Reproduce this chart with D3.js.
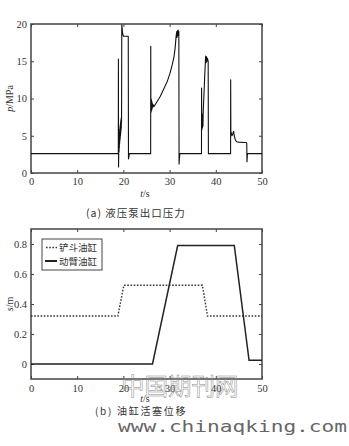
<!DOCTYPE html>
<html><head><meta charset="utf-8">
<script src="https://cdn.jsdelivr.net/npm/d3@7"></script>
<style>body{margin:0;background:#fff;}svg{display:block;}</style>
</head><body>
<svg id="c" width="349" height="446"></svg>
<script>
// ---- data ----
const xTicks = [0, 10, 20, 30, 40, 50];
const pTicks = [0, 5, 10, 15, 20];
const sTicks = [0, 0.2, 0.4, 0.6, 0.8];
const sTickLabels = ["0", "0.2", "0.4", "0.6", "0.8"];

// pump outlet pressure p (MPa) vs time t (s)
const pressureT = [0, 18.9, 18.92, 18.95, 19.0, 19.03, 19.06, 19.09, 19.12, 19.15, 19.18, 19.21, 19.24, 19.27, 19.3, 19.33, 19.36, 19.39, 19.42, 19.45, 19.48, 19.51, 19.54, 19.57, 19.6,
  19.65, 19.85, 20.0, 21.05, 21.1, 21.3,
  25.9, 25.92, 25.95, 25.98, 26.01, 26.04, 26.07, 26.1, 26.13, 26.16, 26.2, 26.25, 26.3, 26.4, 26.6, 27.0, 28.0, 28.6, 29.5, 30.1, 30.6, 30.95, 31.2, 31.4, 31.55, 31.6, 31.7, 31.75, 31.85, 31.9, 32.0, 32.05, 32.2,
  36.9, 36.92, 36.95, 36.98, 37.01, 37.04, 37.07, 37.1, 37.13, 37.16, 37.19, 37.22, 37.25, 37.3, 37.6, 37.8, 37.9, 38.0, 38.1, 38.2, 38.35, 38.4,
  43.2, 43.22, 43.26, 43.5, 43.7, 43.85, 44.0, 44.2, 44.5, 45.0, 46.0, 46.6, 46.7, 46.75, 46.85, 50];
const pressureP = [2.6, 2.6, 15.3, 0.8, 3.2, 4.6, 2.9, 5.1, 3.4, 5.5, 3.9, 5.9, 4.3, 6.2, 4.6, 6.5, 5.0, 6.8, 5.3, 7.1, 5.7, 7.3, 6.0, 7.4, 6.8,
  19.9, 18.7, 18.35, 18.35, 1.9, 2.6,
  2.6, 17.0, 8.3, 10.0, 8.2, 9.9, 8.4, 9.7, 8.5, 9.6, 8.6, 9.4, 8.8, 9.2, 8.9, 9.3, 10.3, 11.1, 12.3, 13.4, 14.6, 15.6, 16.8, 18.3, 19.0, 18.2, 19.1, 18.4, 19.2, 18.5, 19.0, 1.2, 2.6,
  2.6, 11.4, 7.8, 5.8, 7.9, 6.0, 7.8, 6.1, 7.7, 6.2, 7.6, 6.3, 7.5, 8.5, 13.0, 15.7, 14.8, 15.6, 15.0, 15.4, 15.0, 2.6,
  2.6, 12.5, 5.6, 5.0, 5.3, 5.6, 5.0, 4.5, 4.2, 4.15, 4.1, 4.1, 4.0, 1.5, 2.6, 2.6];

// cylinder piston displacement s (m)
const seriesNames = ["铲斗油缸", "动臂油缸"];
const bucketT = [0, 18.8, 20.1, 37.1, 38.2, 50];
const bucketS = [0.32, 0.32, 0.525, 0.525, 0.32, 0.32];
const boomT = [0, 26.3, 31.75, 44.0, 47.2, 50];
const boomS = [0, 0, 0.79, 0.79, 0.025, 0.025];

// ---- drawing ----
const svg = d3.select("#c");
const serif = "'Liberation Serif','DejaVu Serif',serif";
const cjk = "'Noto Sans CJK SC','Noto Sans CJK JP',sans-serif";
const frameColor = "#444";

function panel(yTop, yBot, xDom, yDom, yTickVals, yTickFmt, xPad, yLabel, xLabelY) {
  const x = d3.scaleLinear().domain(xDom).range([31, 262]);
  const y = d3.scaleLinear().domain(yDom).range([yBot, yTop]);
  const g = svg.append("g");
  const style = (sel) => {
    sel.select(".domain").remove();
    sel.selectAll("line").attr("stroke", frameColor).attr("stroke-width", 1);
    sel.selectAll("text").attr("font-family", serif).attr("font-size", 10.5).attr("fill", "#333");
  };
  g.append("g").attr("transform", `translate(0,${yBot})`)
    .call(d3.axisBottom(x).tickValues(xTicks).tickSize(-3).tickPadding(xPad)).call(style);
  g.append("g").attr("transform", `translate(0,${yTop})`)
    .call(d3.axisTop(x).tickValues(xTicks).tickSize(-3).tickFormat("")).call(style);
  g.append("g").attr("transform", `translate(31,0)`)
    .call(d3.axisLeft(y).tickValues(yTickVals).tickSize(-3).tickPadding(4).tickFormat(yTickFmt)).call(style);
  g.append("g").attr("transform", `translate(262,0)`)
    .call(d3.axisRight(y).tickValues(yTickVals).tickSize(-3).tickFormat("")).call(style);
  g.append("rect").attr("x", 31).attr("y", yTop).attr("width", 231).attr("height", yBot - yTop)
    .attr("fill", "none").attr("stroke", frameColor).attr("stroke-width", 1.5);
  const t = g.append("text").attr("x", 145).attr("y", xLabelY).attr("text-anchor", "middle")
    .attr("font-family", serif).attr("font-size", 10).attr("fill", "#333");
  t.append("tspan").attr("font-style", "italic").text("t");
  t.append("tspan").text("/s");
  const yl = g.append("text").attr("transform", `translate(13,${(yTop + yBot) / 2}) rotate(-90)`)
    .attr("text-anchor", "middle").attr("font-family", serif).attr("font-size", 10).attr("fill", "#333");
  yl.append("tspan").attr("font-style", "italic").text(yLabel[0]);
  yl.append("tspan").text(yLabel[1]);
  return {x, y, g};
}

// Panel (a)
const A = panel(24, 173, [0, 50], [0, 20], pTicks, d3.format("d"), 5, ["p", "/MPa"], 197);
const lineA = d3.line().x((d, i) => A.x(pressureT[i])).y((d, i) => A.y(pressureP[i]));
A.g.append("path").attr("d", lineA(pressureT)).attr("fill", "none")
  .attr("stroke", "#111").attr("stroke-width", 1.1).attr("stroke-linejoin", "round");

svg.append("text").attr("x", 86).attr("y", 217).attr("font-family", cjk).attr("font-size", 10.5)
  .attr("letter-spacing", 1).attr("fill", "#333").text("(a) 液压泵出口压力");

// Panel (b)
const B = panel(229, 379, [0, 50], [-0.1, 0.9], sTicks, (d, i) => sTickLabels[i], 6, ["s", "/m"], 402);
const lineB = (T, S) => d3.line().x((d, i) => B.x(T[i])).y((d, i) => B.y(S[i]))(T);
B.g.append("path").attr("d", lineB(bucketT, bucketS)).attr("fill", "none")
  .attr("stroke", "#333").attr("stroke-width", 1.4).attr("stroke-dasharray", "1.6,1.6");
B.g.append("path").attr("d", lineB(boomT, boomS)).attr("fill", "none")
  .attr("stroke", "#222").attr("stroke-width", 1.5);

// legend
const lg = svg.append("g");
lg.append("rect").attr("x", 42).attr("y", 239).attr("width", 60).attr("height", 31)
  .attr("fill", "#fff").attr("stroke", frameColor).attr("stroke-width", 1);
lg.append("line").attr("x1", 46).attr("x2", 57).attr("y1", 247.5).attr("y2", 247.5)
  .attr("stroke", "#333").attr("stroke-width", 1.3).attr("stroke-dasharray", "1.6,1.6");
lg.append("line").attr("x1", 45).attr("x2", 57).attr("y1", 261).attr("y2", 261)
  .attr("stroke", "#222").attr("stroke-width", 2);
lg.selectAll("text.l").data(seriesNames).join("text").attr("class", "l")
  .attr("x", 59).attr("y", (d, i) => 251 + i * 13.5).attr("font-family", cjk)
  .attr("font-size", 9.5).attr("fill", "#333").text(d => d);

svg.append("text").attr("x", 95).attr("y", 415).attr("font-family", cjk).attr("font-size", 10)
  .attr("letter-spacing", 1.7).attr("fill", "#333").text("(b) 油缸活塞位移");

// watermarks
svg.append("text").attr("x", 121).attr("y", 395).attr("font-family", cjk).attr("font-size", 23.5)
  .attr("fill", "none").attr("stroke", "#8a8a8a").attr("stroke-width", 0.5).text("中国期刊网");
svg.append("text").attr("x", 118).attr("y", 432).attr("font-family", "'DejaVu Sans Mono',monospace")
  .attr("font-size", 16).attr("textLength", 229).attr("lengthAdjust", "spacingAndGlyphs")
  .attr("fill", "#666").text("www.chinaqking.com");
</script>
</body></html>
